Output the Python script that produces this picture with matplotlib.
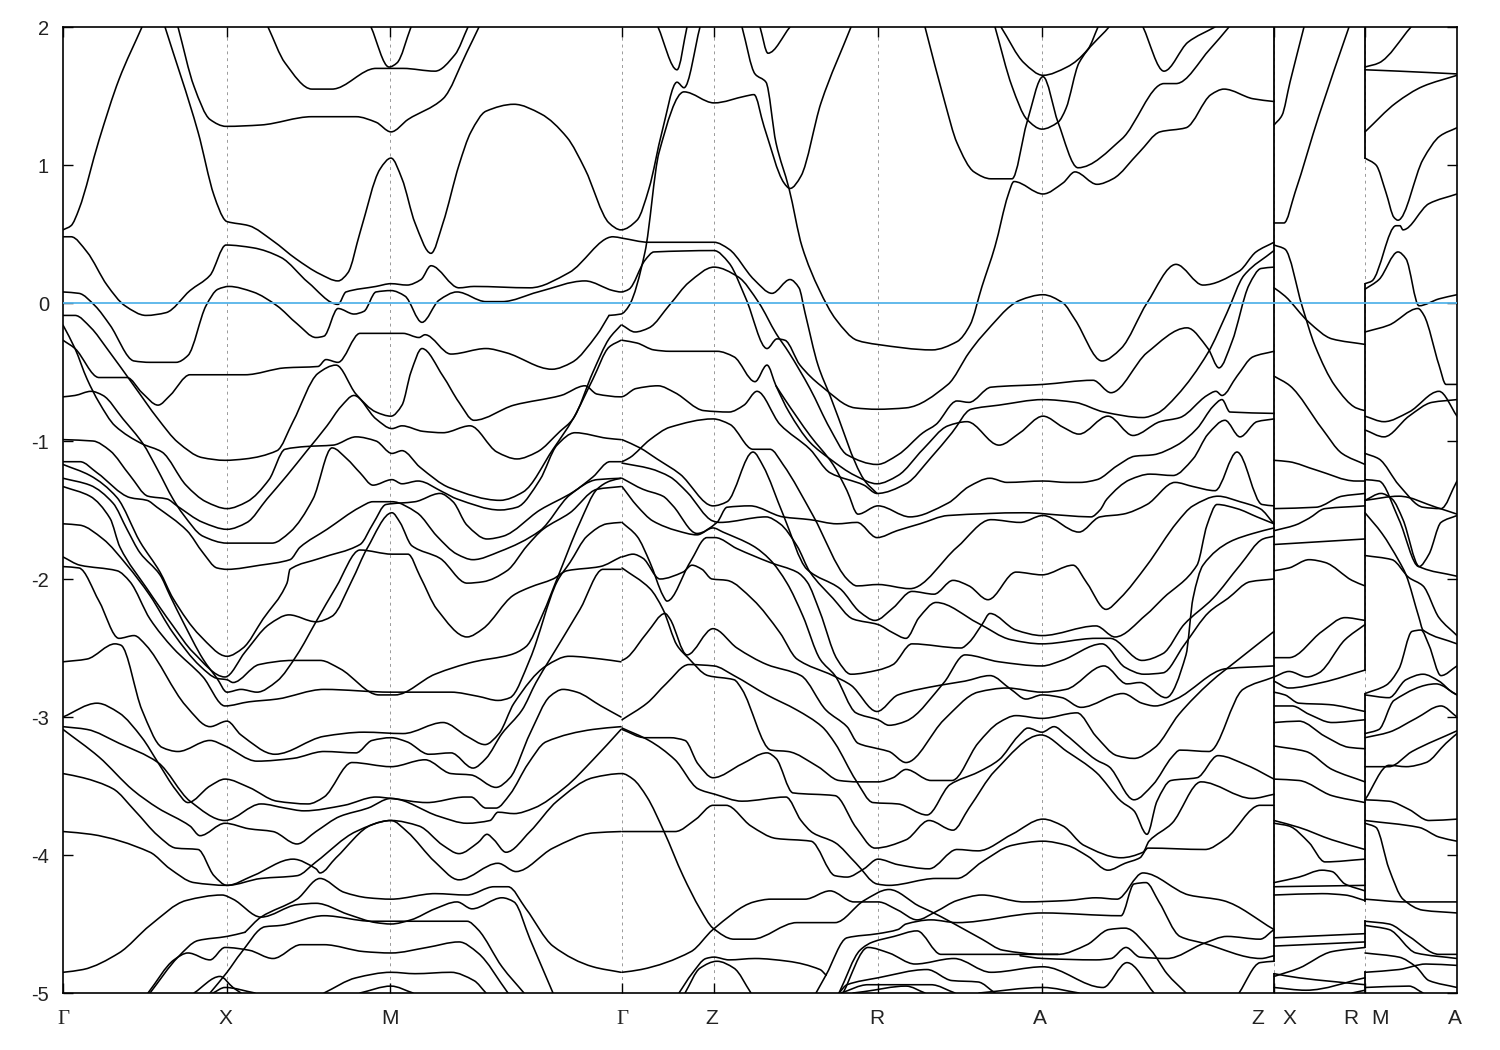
import matplotlib
matplotlib.use("Agg")
import matplotlib.pyplot as plt
from matplotlib.path import Path
from matplotlib.patches import PathPatch

# k-path position (arbitrary path units), energy (eV)
k_points = [0, 164, 327, 559, 651, 815, 979, 1211, 1302, 1394]
y_ticks = [2, 1, 0, -1, -2, -3, -4, -5]
label_names = ["Γ", "X", "M", "Γ", "Z", "R", "A", "Z", "X", "R", "M", "A"]
label_k = [0, 162, 327, 559, 649, 814, 977, 1195, 1226, 1288, 1317, 1392]
jumps_z = [(-4.77, 2), (-5, -4.86)]
jumps_r = [(1.05, 2), (-2.66, 0.14), (-4.33, -2.83), (-4.67, -4.48), (-5, -4.85)]

band_001 = [(0,.53),(8,.56),(16,.68),(36,1.18),(56,1.62),(79,2.0)]
band_002 = [(102,2.0),(135,1.24),(151,.78),(162,.6),(164,.59),(186,.56),(210,.45),(233,.32),(257,.21),(275,.16),(285,.22),(297,.51),(317,.97),(328,1.05),(339,.9),(352,.58),(368,.36),(380,.58),(396,1.0),(408,1.24),(423,1.39),(451,1.44),(478,1.37),(504,1.2),(522,.97),(546,.58),(558,.53),(574,.6),(586,.83),(599,1.24),(614,1.6),(621,1.56),(637,2.0)]
band_003 = [(595,2.0),(614,1.69),(624,2.0)]
band_004 = [(546,-.09),(558,-.08),(566,-.02),(582,.37),(596,1.09),(621,1.53),(651,1.45),(683,1.5),(691,1.51),(701,1.28),(721,.87),(727,.83),(738,.92),(758,1.45),(788,2.0)]
band_005 = [(679,2),(692,1.66),(703,1.6),(713,1.16),(726,.83),(739,.41),(756,.1),(773,-.12),(794,-.27),(814,-.3),(869,-.34),(894,-.28),(907,-.16),(919,.12),(932,.41),(945,.78),(951,.88),(980,.79),(1000,.87),(1012,.95),(1034,.86),(1050,.9),(1076,1.09),(1097,1.24),(1123,1.27),(1148,1.51),(1161,1.55),(1190,1.48),(1211,1.46)]
band_006 = [(697,2),(705,1.81),(727,2)]
band_007 = [(862,2),(882,1.45),(894,1.16),(911,.95),(928,.9),(949,.9),(964,1.31),(980,1.64),(995,1.31),(1015,.98),(1059,1.19),(1101,1.59),(1113,1.59),(1147,1.84),(1166,2.0)]
band_008 = [(932,2),(949,1.57),(964,1.33),(979,1.26),(995,1.31),(1003,1.41),(1016,1.74),(1046,2)]
band_009 = [(938,2),(961,1.74),(980,1.65),(1004,1.71),(1025,1.84),(1035,2)]
band_010 = [(1080,2),(1101,1.68),(1125,1.89),(1152,2.0)]
band_011 = [(115,2),(131,1.57),(147,1.33),(163,1.28),(198,1.29),(249,1.35),(293,1.35),(313,1.31),(328,1.24),(345,1.33),(380,1.48),(404,1.82),(416,2)]
band_012 = [(205,2),(222,1.74),(249,1.55),(269,1.55),(313,1.7),(340,1.7),(372,1.68),(392,1.8),(405,2)]
band_013 = [(308,2),(326,1.71),(334,1.74),(348,2)]
band_014 = [(0,.48),(8,.48),(24,.37),(44,.13),(62,-.02),(83,-.09),(103,-.07),(127,.09),(147,.2),(163,.42),(190,.4),(218,.33),(245,.15),(275,-.01),(283,.08),(313,.12),(328,.14),(344,.13),(358,.17),(368,.27),(396,.11),(411,.12),(467,.11),(506,.22),(550,.48),(559,.47),(586,.44),(651,.44),(666,.39),(691,.17),(709,.07),(727,.17),(736,.11),(742,-.07),(755,-.45),(767,-.67),(801,-1.28),(814,-1.38)]
band_015 = [(0,.08),(16,.07),(32,-.02),(47,-.16),(71,-.42),(87,-.43),(113,-.43),(125,-.38),(143,-.02),(155,.1),(166,.12),(190,.08),(214,-.02),(234,-.15),(253,-.25),(261,-.24),(275,-.04),(291,-.08),(301,-.06),(313,.08),(328,.09),(342,.05),(359,-.14),(376,.02),(394,.08),(423,.01),(439,.01),(475,.08),(522,.16),(550,.09),(558,.08),(566,.1),(582,.31),(591,.37),(651,.38),(666,.29),(683,.03),(704,-.33),(714,-.26),(722,-.27),(737,-.45),(758,-.6),(792,-.76),(814,-.77),(843,-.76),(885,-.59),(906,-.36),(919,-.24),(957,.02),(980,.06),(1000,0),(1012,-.12),(1039,-.42),(1058,-.33),(1084,0),(1113,.28),(1140,.13),(1176,.23),(1193,.37),(1211,.44)]
band_016 = [(559,-.16),(572,-.21),(586,-.18),(607,-.01),(626,.15),(651,.26),(675,.19),(696,0),(713,-.22),(726,-.36),(747,-.62),(767,-.91),(784,-1.1),(814,-1.17),(835,-1.1),(860,-.94),(873,-.88),(894,-.71),(906,-.72),(928,-.61),(980,-.59),(1030,-.56),(1048,-.65),(1084,-.36),(1124,-.18),(1145,-.33),(1156,-.47),(1169,-.28),(1186,.13),(1198,.25),(1211,.26)]
band_018 = [(559,-.27),(574,-.29),(591,-.34),(607,-.35),(654,-.35),(671,-.39),(692,-.57),(704,-.45),(713,-.6),(726,-.79),(747,-1.01),(767,-1.13),(792,-1.25),(814,-1.31),(835,-1.25),(860,-1.06),(885,-.89),(904,-.86),(936,-1.03),(957,-.94),(980,-.82),(1000,-.9),(1016,-.95),(1045,-.82),(1070,-.96),(1097,-.86),(1117,-.83),(1144,-.67),(1153,-.64),(1159,-.67),(1174,-.53),(1190,-.39),(1211,-.35)]
band_019 = [(0,-.09),(12,-.09),(28,-.18),(44,-.33),(71,-.6),(95,-.84),(115,-1.01),(139,-1.12),(162,-1.14),(182,-1.13),(214,-1.07),(230,-.86),(255,-.51),(273,-.45),(293,-.66),(313,-.79),(328,-.82),(339,-.74),(348,-.5),(359,-.33),(380,-.53),(396,-.72),(411,-.85),(451,-.74),(498,-.67),(522,-.6),(534,-.66),(558,-.68),(573,-.62),(595,-.6),(612,-.65),(641,-.78),(666,-.79),(681,-.74),(694,-.64),(717,-.88),(747,-1.06),(767,-1.23),(801,-1.32),(814,-1.38),(843,-1.31),(868,-1.12),(889,-.94),(908,-.77),(936,-.74),(980,-.7),(1012,-.72),(1041,-.79),(1080,-.83),(1094,-.8),(1114,-.67),(1145,-.36),(1164,-.07),(1181,.2),(1211,.38)]
band_020 = [(559,-.99),(577,-1.05),(594,-1.13),(617,-1.24),(650,-1.47),(664,-1.44),(690,-1.08),(700,-1.18),(720,-1.53),(744,-1.93),(777,-2.07),(797,-2.24),(812,-2.3),(830,-2.21),(849,-2.09),(871,-2.11),(890,-2.01),(906,-2.05),(925,-2.15),(953,-1.95),(979,-1.97),(1010,-1.9),(1024,-2.03),(1043,-2.22),(1057,-2.14),(1084,-1.9),(1114,-1.59),(1130,-1.47),(1155,-1.4),(1177,-1.44),(1197,-1.49),(1211,-1.6)]
band_021 = [(559,-1.15),(567,-1.12),(587,-.99),(607,-.9),(650,-.84),(667,-.88),(690,-1.06),(707,-1.06),(720,-1.17),(750,-1.54),(784,-2.0),(794,-2.05),(815,-2.04),(847,-2.07),(894,-1.77),(928,-1.57),(957,-1.59),(980,-1.54),(1016,-1.66),(1037,-1.55),(1060,-1.53),(1084,-1.46),(1112,-1.3),(1130,-1.33),(1152,-1.36),(1174,-1.08),(1199,-1.46),(1211,-1.47)]
band_023 = [(559,-1.16),(587,-1.2),(607,-1.26),(624,-1.37),(650,-1.58),(657,-1.59),(703,-1.55),(717,-1.6),(734,-1.76),(747,-1.95),(770,-2.14),(790,-2.29),(815,-2.33),(830,-2.39),(843,-2.43),(856,-2.28),(873,-2.17),(915,-2.32),(948,-2.44),(979,-2.47),(1033,-2.43),(1047,-2.43),(1079,-2.59),(1100,-2.54),(1121,-2.33),(1150,-2.14),(1177,-1.9),(1200,-1.71),(1211,-1.69)]
band_024 = [(559,-1.27),(580,-1.35),(600,-1.4),(610,-1.47),(634,-1.67),(654,-1.59),(664,-1.48),(687,-1.47),(720,-1.55),(747,-1.57),(774,-1.6),(794,-1.59),(814,-1.7),(834,-1.65),(857,-1.6),(885,-1.54),(961,-1.52),(1003,-1.54),(1028,-1.55),(1037,-1.5),(1044,-1.42),(1067,-1.28),(1087,-1.24),(1110,-1.25),(1130,-1.13),(1145,-.95),(1162,-.85),(1177,-.97),(1194,-.86),(1211,-.84)]
band_025 = [(559,-1.33),(574,-1.47),(590,-1.58),(614,-1.65),(634,-1.68),(650,-1.63),(660,-1.66),(690,-1.76),(707,-1.86),(724,-2.03),(740,-2.27),(757,-2.58),(772,-2.7),(793,-2.97),(815,-3.02),(826,-3.06),(843,-3.03),(881,-2.75),(902,-2.55),(936,-2.6),(979,-2.63),(999,-2.59),(1039,-2.47),(1062,-2.64),(1081,-2.69),(1100,-2.68),(1121,-2.48),(1146,-2.24),(1165,-2.14),(1187,-2.02),(1211,-2.0)]
band_026 = [(713,-.6),(722,-.7),(747,-.96),(770,-1.17),(784,-1.36),(795,-1.53),(815,-1.47),(847,-1.55),(885,-1.45),(906,-1.33),(927,-1.27),(944,-1.3),(980,-1.29),(1004,-1.3),(1017,-1.3),(1034,-1.28),(1054,-1.18),(1072,-1.11),(1090,-1.1),(1114,-1.03),(1134,-.91),(1150,-.75),(1159,-.7),(1167,-.79),(1211,-.8)]
band_032 = [(559,-1.59),(574,-1.69),(587,-1.88),(600,-2.12),(604,-2.16),(627,-1.88),(644,-1.7),(652,-1.7),(674,-1.78),(707,-1.88),(734,-1.95),(744,-2.02),(757,-2.24),(774,-2.58),(788,-2.69),(815,-2.66),(830,-2.62),(849,-2.47),(898,-2.5),(906,-2.46),(919,-2.33),(927,-2.25),(953,-2.37),(979,-2.41),(1033,-2.34),(1052,-2.42),(1083,-2.26),(1100,-2.14),(1134,-1.9),(1144,-1.61),(1154,-1.46),(1174,-1.49),(1194,-1.55),(1211,-1.6)]
band_033 = [(559,-1.84),(570,-1.82),(580,-1.85),(597,-2.0),(620,-1.95),(629,-1.9),(639,-1.93),(649,-2.0),(664,-2.01),(690,-2.15),(717,-2.39),(734,-2.58),(770,-2.7),(788,-2.77),(814,-2.96),(835,-2.84),(877,-2.77),(902,-2.74),(927,-2.7),(948,-2.8),(963,-2.87),(979,-2.84),(999,-2.86),(1018,-2.93),(1060,-2.83),(1079,-2.9),(1092,-2.92),(1113,-2.87),(1163,-2.65),(1211,-2.63)]
band_034 = [(559,-1.92),(587,-2.07),(600,-2.22),(614,-2.48),(625,-2.57),(645,-2.7),(671,-2.73),(679,-2.8),(708,-3.24),(725,-3.25),(755,-3.36),(776,-3.46),(795,-3.47),(815,-3.47),(830,-3.44),(843,-3.38),(868,-3.46),(889,-3.46),(915,-3.19),(936,-3.04),(953,-2.99),(979,-3.01),(1014,-2.97),(1033,-3.14),(1054,-3.28),(1071,-3.3),(1092,-3.22),(1116,-2.98),(1147,-2.75),(1176,-2.58),(1211,-2.38)]
band_035 = [(559,-2.59),(564,-2.57),(584,-2.39),(602,-2.25),(607,-2.29),(624,-2.55),(650,-2.36),(674,-2.5),(704,-2.62),(738,-2.7),(763,-2.95),(784,-3.07),(795,-3.19),(815,-3.23),(826,-3.25),(843,-3.33),(881,-3.02),(915,-2.82),(944,-2.79),(979,-2.82),(1003,-2.8),(1041,-2.63),(1064,-2.76),(1077,-2.75),(1103,-2.86),(1123,-2.55),(1130,-2.14),(1140,-1.9),(1167,-1.73),(1190,-1.67),(1211,-1.63)]
band_036 = [(559,-3.02),(584,-2.9),(603,-2.76),(626,-2.62),(651,-2.63),(671,-2.7),(704,-2.84),(734,-2.95),(759,-3.07),(772,-3.19),(793,-3.46),(810,-3.62),(835,-3.63),(864,-3.71),(887,-3.49),(915,-3.4),(936,-3.31),(955,-3.14),(965,-3.08),(979,-3.11),(991,-3.07),(1003,-3.13),(1033,-3.31),(1046,-3.36),(1071,-3.6),(1090,-3.49),(1109,-3.29),(1117,-3.24),(1146,-3.25),(1180,-2.8),(1211,-2.71)]
band_038 = [(559,-3.08),(586,-3.17),(612,-3.31),(635,-3.52),(652,-3.56),(679,-3.61),(723,-3.58),(738,-3.75),(750,-3.84),(772,-3.91),(793,-4.06),(814,-4.21),(826,-4.22),(873,-4.17),(894,-4.17),(919,-4.05),(949,-3.93),(980,-3.9),(1004,-3.93),(1025,-4.01),(1045,-4.11),(1062,-4.06),(1077,-4.02),(1085,-3.95),(1142,-3.96),(1163,-3.88),(1197,-3.64),(1211,-3.64)]
band_039 = [(559,-3.09),(582,-3.15),(607,-3.15),(622,-3.17),(635,-3.34),(650,-3.44),(679,-3.34),(704,-3.26),(713,-3.3),(730,-3.55),(772,-3.57),(793,-3.8),(812,-3.95),(843,-3.89),(866,-3.75),(890,-3.82),(906,-3.66),(932,-3.39),(978,-3.13),(1004,-3.25),(1033,-3.4),(1058,-3.61),(1071,-3.68),(1084,-3.85),(1094,-3.61),(1108,-3.46),(1134,-3.44),(1155,-3.28),(1184,-3.35),(1211,-3.45)]
band_040 = [(559,-3.83),(601,-3.83),(612,-3.83),(633,-3.74),(650,-3.64),(663,-3.64),(688,-3.79),(713,-3.88),(748,-3.9),(772,-4.15),(784,-4.16),(801,-4.1),(815,-4.03),(835,-4.07),(866,-4.1),(894,-3.96),(915,-3.97),(949,-3.85),(980,-3.74),(1000,-3.79),(1021,-3.93),(1058,-4.02),(1080,-3.98),(1086,-3.9),(1109,-3.77),(1138,-3.47),(1189,-3.59),(1211,-3.56)]
band_041 = [(0,-3.41),(20,-3.44),(50,-3.52),(72,-3.68),(95,-3.86),(113,-3.95),(135,-3.96),(151,-4.15),(164,-4.22),(190,-4.15),(230,-4.03),(253,-4.1),(257,-4.13),(273,-4.02),(309,-3.78),(328,-3.75),(356,-3.79),(380,-3.93),(396,-3.99),(415,-3.91),(424,-3.85),(431,-3.89),(443,-3.98),(467,-3.83),(494,-3.61),(530,-3.44),(559,-3.41),(570,-3.45),(584,-3.58),(601,-3.83),(620,-4.15),(637,-4.39),(650,-4.53),(671,-4.61),(689,-4.61),(734,-4.49),(772,-4.49),(801,-4.33),(826,-4.25),(856,-4.37),(868,-4.41),(889,-4.49),(919,-4.61),(940,-4.69),(980,-4.72),(995,-4.72),(1024,-4.65),(1046,-4.54),(1062,-4.53),(1088,-4.69),(1104,-4.86),(1123,-5)]
band_042 = [(0,-4.85),(20,-4.83),(56,-4.71),(87,-4.51),(123,-4.33),(159,-4.29),(170,-4.32),(198,-4.45),(234,-4.36),(253,-4.35),(285,-4.43),(313,-4.49),(328,-4.5),(348,-4.47),(372,-4.39),(394,-4.34),(409,-4.39),(439,-4.31),(451,-4.34),(467,-4.61),(490,-5)]
band_043 = [(559,-4.85),(578,-4.83),(628,-4.7),(650,-4.54),(691,-4.34),(708,-4.32),(742,-4.32),(767,-4.26),(791,-4.34),(815,-4.34),(835,-4.4),(854,-4.47),(873,-4.41),(894,-4.33),(919,-4.29),(961,-4.34),(1004,-4.33),(1033,-4.31),(1054,-4.32),(1080,-4.13),(1126,-4.29),(1160,-4.33),(1211,-4.54)]
band_044 = [(763,-4.87),(784,-4.6),(815,-4.57),(835,-4.54),(843,-4.5),(868,-4.47),(894,-4.49),(980,-4.42),(1058,-4.44),(1071,-4.21),(1083,-4.2),(1096,-4.34),(1117,-4.59),(1141,-4.64),(1198,-4.75),(1211,-4.73)]
band_045 = [(616,-5),(629,-4.86),(643,-4.75),(651,-4.74),(666,-4.76),(692,-4.75),(725,-4.77),(757,-4.83),(763,-4.87)]
band_046 = [(622,-5),(637,-4.82),(654,-4.77),(671,-4.82),(688,-5)]
band_047 = [(753,-5),(763,-4.87)]
band_048 = [(776,-5),(797,-4.69),(810,-4.63),(831,-4.59),(854,-4.55),(878,-4.72),(936,-4.72),(995,-4.72)]
band_049 = [(957,-4.73),(980,-4.75),(1033,-4.76),(1048,-4.75),(1063,-4.67),(1077,-4.74),(1104,-4.75),(1141,-4.64),(1164,-4.59),(1197,-4.61),(1211,-4.54)]
band_050 = [(780,-5),(805,-4.67),(826,-4.71),(852,-4.79),(891,-4.75),(928,-4.85),(980,-4.81),(1040,-4.96),(1064,-4.78),(1091,-5)]
band_051 = [(776,-5),(784,-4.94),(815,-4.89),(864,-4.83),(889,-4.91),(915,-4.92),(932,-5)]
band_052 = [(778,-5),(805,-4.94),(868,-4.94),(892,-5)]
band_053 = [(790,-5),(801,-4.99),(843,-4.95),(862,-5)]
band_054 = [(916,-5),(980,-4.96),(1016,-5)]
band_055 = [(1176,-5),(1197,-4.78),(1211,-4.77)]
band_056 = [(0,-.16),(12,-.33),(24,-.55),(36,-.72),(52,-.89),(79,-1.02),(99,-1.08),(123,-1.32),(143,-1.44),(164,-1.49),(184,-1.44),(206,-1.28),(222,-1.06),(243,-1.04),(270,-1.03),(293,-.97),(313,-1.0),(329,-1.09),(339,-1.07),(357,-1.19),(387,-1.34),(437,-1.43),(460,-1.37),(490,-1.06),(510,-.84),(530,-.55),(546,-.32),(558,-.27)]
band_057 = [(0,-.27),(12,-.33),(36,-.54),(64,-.54),(79,-.65),(95,-.74),(107,-.67),(127,-.52),(182,-.52),(222,-.47),(255,-.46),(263,-.41),(275,-.43),(297,-.22),(340,-.22),(356,-.25),(362,-.23),(388,-.37),(423,-.33),(443,-.36),(489,-.48),(509,-.43),(534,-.23),(546,-.09)]
band_064 = [(0,-.68),(12,-.67),(28,-.64),(40,-.67),(60,-.84),(80,-1.02),(94,-1.2),(110,-1.42),(120,-1.53),(140,-1.69),(164,-1.74),(209,-1.74),(227,-1.66),(250,-1.42),(269,-1.05),(284,-1.13),(297,-1.23),(310,-1.32),(329,-1.28),(339,-1.31),(355,-1.29),(380,-1.37),(394,-1.42),(437,-1.5),(454,-1.48),(477,-1.28),(494,-1.03),(512,-.94),(544,-.98),(558,-.99)]
band_065 = [(0,-.99),(30,-1.0),(47,-1.07),(67,-1.25),(85,-1.4),(104,-1.42),(114,-1.47),(140,-1.59),(164,-1.64),(184,-1.59),(204,-1.42),(224,-1.25),(244,-1.07),(264,-.89),(278,-.75),(291,-.67),(313,-.84),(329,-.91),(339,-.89),(360,-.93),(380,-.94),(407,-.89),(434,-1.08),(454,-1.13),(474,-1.08),(497,-.93),(510,-.84),(530,-.5),(546,-.26),(558,-.16)]
band_066 = [(0,-1.15),(17,-1.15),(34,-1.23),(67,-1.41),(84,-1.43),(94,-1.48),(124,-1.65),(140,-1.81),(154,-1.92),(164,-1.93),(197,-1.9),(227,-1.86),(237,-1.77),(264,-1.64),(297,-1.48),(310,-1.44),(329,-1.44),(354,-1.52),(374,-1.69),(394,-1.82),(410,-1.86),(437,-1.8),(477,-1.65),(507,-1.39),(534,-1.28),(558,-1.27)]
band_067 = [(0,-1.17),(27,-1.25),(54,-1.41),(77,-1.73),(97,-1.95),(110,-2.14),(137,-2.41),(164,-2.56),(180,-2.5),(200,-2.29),(224,-2.03),(227,-1.93),(257,-1.85),(297,-1.75),(310,-1.6),(323,-1.46),(352,-1.44),(377,-1.38),(390,-1.44),(404,-1.61),(424,-1.71),(440,-1.69),(477,-1.5),(510,-1.37),(530,-1.26),(547,-1.15),(558,-1.15)]
band_068 = [(0,-1.33),(27,-1.4),(47,-1.56),(57,-1.77),(84,-2.07),(110,-2.34),(130,-2.53),(162,-2.71),(182,-2.53),(206,-2.33),(226,-2.26),(253,-2.31),(269,-2.27),(289,-2.01),(304,-1.78),(329,-1.52),(337,-1.59),(349,-1.76),(377,-1.85),(404,-2.03),(420,-2.02),(444,-1.94),(464,-1.76),(480,-1.64),(507,-1.52),(534,-1.35),(558,-1.33)]
band_069 = [(0,-1.27),(27,-1.32),(50,-1.45),(64,-1.64),(77,-1.81),(97,-1.97),(107,-2.12),(120,-2.31),(140,-2.58),(154,-2.72),(164,-2.82),(178,-2.8),(194,-2.82),(214,-2.74),(234,-2.55),(253,-2.31),(273,-2.06),(297,-1.79),(329,-1.82),(345,-1.82),(357,-1.98),(374,-2.22),(404,-2.42),(420,-2.36),(450,-2.12),(467,-2.06),(490,-2.0),(504,-1.94),(537,-1.91),(558,-1.84)]
band_070 = [(0,-1.6),(17,-1.61),(40,-1.71),(64,-1.9),(87,-2.12),(110,-2.39),(137,-2.63),(154,-2.72),(164,-2.73),(170,-2.75),(196,-2.62),(230,-2.59),(257,-2.59),(277,-2.65),(316,-2.84),(332,-2.84),(372,-2.69),(411,-2.6),(447,-2.55),(463,-2.49),(480,-2.25),(494,-2.0),(517,-1.59),(534,-1.35),(547,-1.29),(558,-1.27)]
band_071 = [(0,-1.84),(17,-1.9),(54,-1.94),(67,-2.02),(87,-2.29),(110,-2.5),(140,-2.71),(162,-2.92),(186,-2.89),(214,-2.87),(261,-2.8),(328,-2.82),(388,-2.82),(415,-2.85),(435,-2.88),(447,-2.86),(467,-2.58),(494,-2.02),(507,-1.88),(524,-1.69),(544,-1.6),(558,-1.59)]
band_072 = [(0,-1.91),(16,-1.92),(36,-2.16),(56,-2.43),(71,-2.41),(83,-2.48),(123,-2.92),(147,-3.07),(164,-3.03),(178,-3.13),(212,-3.27),(261,-3.14),(301,-3.11),(340,-3.12),(380,-3.04),(404,-3.14),(422,-3.2),(436,-3.12),(451,-2.9),(483,-2.63),(506,-2.56),(538,-2.58),(558,-2.6)]
band_073 = [(0,-2.6),(24,-2.58),(52,-2.47),(58,-2.48),(79,-2.95),(99,-3.22),(115,-3.25),(147,-3.17),(162,-3.21),(194,-3.32),(230,-3.3),(261,-3.25),(293,-3.26),(309,-3.17),(328,-3.15),(344,-3.18),(366,-3.27),(388,-3.26),(410,-3.37),(423,-3.3),(439,-3.12),(459,-2.95),(473,-2.75),(487,-2.58),(517,-2.22),(540,-1.93),(558,-1.93)]
band_074 = [(0,-3),(34,-2.9),(56,-2.97),(79,-3.15),(95,-3.33),(113,-3.53),(125,-3.62),(147,-3.5),(162,-3.45),(186,-3.51),(214,-3.61),(245,-3.63),(261,-3.58),(289,-3.33),(328,-3.36),(362,-3.31),(388,-3.41),(408,-3.42),(433,-3.51),(447,-3.44),(467,-3.12),(487,-2.85),(500,-2.8),(514,-2.82),(538,-2.92),(558,-3.0)]
band_075 = [(0,-3.07),(24,-3.09),(56,-3.19),(95,-3.33),(127,-3.61),(162,-3.75),(198,-3.63),(222,-3.66),(241,-3.68),(281,-3.64),(313,-3.58),(328,-3.59),(364,-3.62),(402,-3.58),(408,-3.58),(423,-3.66),(433,-3.66),(447,-3.56),(465,-3.34),(483,-3.18),(530,-3.09),(558,-3.07)]
band_076 = [(0,-3.09),(36,-3.29),(70,-3.53),(95,-3.66),(127,-3.79),(137,-3.86),(162,-3.77),(186,-3.81),(210,-3.83),(234,-3.92),(253,-3.83),(277,-3.72),(305,-3.66),(328,-3.59),(376,-3.72),(404,-3.77),(427,-3.75),(435,-3.69),(451,-3.7),(471,-3.66),(502,-3.51),(530,-3.31),(558,-3.09)]
band_077 = [(0,-3.83),(28,-3.85),(87,-3.98),(107,-4.1),(131,-4.2),(164,-4.22),(198,-4.17),(234,-4.15),(253,-4.05),(293,-3.83),(328,-3.75),(344,-3.83),(372,-4.05),(396,-4.18),(435,-4.06),(453,-4.12),(490,-3.95),(530,-3.84),(558,-3.83)]
band_078 = [(182,-4.56),(198,-4.45),(234,-4.32),(257,-4.17),(281,-4.27),(305,-4.31),(328,-4.32),(372,-4.28),(404,-4.29),(431,-4.23),(445,-4.23),(463,-4.39),(490,-4.66),(530,-4.81),(558,-4.85)]
band_079 = [(147,-5),(164,-4.85),(178,-4.71),(202,-4.52),(218,-4.51),(261,-4.44),(309,-4.48),(404,-4.48),(415,-4.54),(439,-4.81),(461,-5)]
band_080 = [(87,-5),(115,-4.74),(135,-4.62),(164,-4.59),(182,-4.56)]
band_081 = [(85,-5),(111,-4.76),(125,-4.71),(147,-4.76),(162,-4.67),(186,-4.69),(210,-4.75),(238,-4.65),(261,-4.65),(301,-4.7),(328,-4.71),(364,-4.67),(396,-4.63),(415,-4.71),(445,-5)]
band_083 = [(131,-5),(157,-4.88),(170,-4.96),(178,-5)]
band_084 = [(150,-5),(162,-4.96),(192,-5)]
band_085 = [(261,-5),(293,-4.89),(328,-4.85),(352,-4.86),(388,-4.85),(411,-4.91),(423,-5)]
band_086 = [(297,-5),(328,-4.95),(350,-5)]

# X - R panel
band_101 = [(1211,1.29),(1219,1.36),(1227,1.6),(1241,2)]
band_102 = [(1211,.58),(1221,.58),(1232,.8),(1256,1.36),(1286,2)]
band_103 = [(1211,.42),(1222,.39),(1239,-.02),(1252,-.31),(1272,-.6),(1293,-.76),(1302,-.78)]
band_104 = [(1211,.11),(1222,.05),(1246,-.14),(1269,-.26),(1302,-.3)]
band_105 = [(1211,-.53),(1227,-.6),(1259,-.91),(1279,-1.09),(1302,-1.17)]
band_106 = [(1211,-1.14),(1226,-1.15),(1253,-1.21),(1293,-1.29),(1302,-1.29)]
band_107 = [(1211,-1.49),(1253,-1.48),(1279,-1.4),(1302,-1.38)]
band_108 = [(1211,-1.65),(1232,-1.61),(1246,-1.56),(1262,-1.49),(1302,-1.47)]
band_109 = [(1211,-1.75),(1302,-1.71)]
band_110 = [(1211,-1.94),(1226,-1.92),(1246,-1.86),(1262,-1.88),(1289,-2.01),(1302,-2.05)]
band_111 = [(1211,-2.57),(1226,-2.57),(1259,-2.38),(1282,-2.28),(1302,-2.3)]
band_112 = [(1211,-2.71),(1226,-2.67),(1244,-2.71),(1256,-2.68),(1282,-2.44),(1302,-2.33)]
band_113 = [(1211,-2.74),(1226,-2.79),(1259,-2.75),(1302,-2.66)]
band_114 = [(1211,-2.82),(1222,-2.84),(1236,-2.9),(1266,-2.91),(1302,-2.96)]
band_115 = [(1211,-2.92),(1229,-2.92),(1246,-2.98),(1269,-3.04),(1302,-3.02)]
band_116 = [(1211,-3.04),(1236,-3.03),(1262,-3.14),(1286,-3.22),(1302,-3.23)]
band_117 = [(1211,-3.21),(1243,-3.25),(1269,-3.38),(1302,-3.47)]
band_118 = [(1211,-3.45),(1236,-3.46),(1269,-3.57),(1302,-3.62)]
band_119 = [(1211,-3.75),(1236,-3.8),(1269,-3.89),(1302,-3.96)]
band_120 = [(1211,-3.77),(1226,-3.79),(1246,-3.91),(1262,-4.05),(1302,-4.03)]
band_121 = [(1211,-4.2),(1236,-4.16),(1259,-4.11),(1269,-4.12),(1282,-4.21),(1302,-4.26)]
band_122 = [(1211,-4.23),(1302,-4.22)]
band_123 = [(1211,-4.29),(1259,-4.28),(1282,-4.29),(1302,-4.33)]
band_124 = [(1211,-4.6),(1302,-4.57)]
band_125 = [(1211,-4.66),(1302,-4.63)]
band_126 = [(1211,-4.88),(1236,-4.82),(1269,-4.7),(1302,-4.67)]
band_127 = [(1211,-4.86),(1236,-4.89),(1302,-4.94)]
band_128 = [(1211,-4.96),(1243,-4.98),(1302,-4.89)]
band_129 = [(1289,-5),(1302,-4.98)]

# M - A panel
band_201 = [(1302,1.71),(1316,1.74),(1348,2)]
band_202 = [(1302,1.69),(1336,1.68),(1394,1.66)]
band_203 = [(1302,1.24),(1333,1.45),(1360,1.57),(1394,1.65)]
band_204 = [(1302,1.05),(1313,1.0),(1323,.8),(1331,.62),(1335,.6),(1360,1.04),(1377,1.21),(1394,1.27)]
band_205 = [(1302,.14),(1309,.16),(1333,.56),(1337,.56),(1340,.53),(1366,.72),(1394,.79)]
band_206 = [(1302,.1),(1316,.17),(1335,.37),(1343,.32),(1356,-.02),(1376,.03),(1394,.06)]
band_207 = [(1302,-.21),(1326,-.16),(1355,-.04),(1361,-.09),(1376,-.45),(1383,-.59),(1394,-.59)]
band_208 = [(1302,-.82),(1321,-.86),(1346,-.79),(1376,-.64),(1394,-.82)]
band_209 = [(1302,-.92),(1321,-.97),(1346,-.82),(1369,-.72),(1394,-.7)]
band_210 = [(1302,-1.09),(1316,-1.13),(1336,-1.32),(1360,-1.48),(1378,-1.49),(1394,-1.29)]
band_211 = [(1302,-1.28),(1316,-1.29),(1336,-1.57),(1356,-1.91),(1366,-1.82),(1378,-1.59),(1394,-1.54)]
band_212 = [(1302,-1.43),(1318,-1.38),(1329,-1.42),(1340,-1.57),(1356,-1.91),(1394,-1.98)]
band_213 = [(1302,-1.43),(1336,-1.4),(1373,-1.48),(1394,-1.53)]
band_214 = [(1302,-1.52),(1319,-1.67),(1336,-1.87),(1343,-1.97),(1356,-2.28),(1360,-2.37),(1394,-2.47)]
band_215 = [(1302,-1.83),(1329,-1.86),(1346,-1.99),(1360,-2.05),(1376,-2.28),(1394,-2.41)]
band_216 = [(1302,-2.83),(1323,-2.77),(1336,-2.65),(1349,-2.38),(1358,-2.37),(1366,-2.48),(1378,-2.7),(1394,-2.63)]
band_217 = [(1302,-2.84),(1326,-2.86),(1343,-2.73),(1360,-2.69),(1376,-2.74),(1389,-2.82),(1394,-2.84)]
band_218 = [(1302,-3.12),(1316,-3.09),(1331,-2.88),(1373,-2.76),(1394,-2.84)]
band_219 = [(1302,-3.15),(1326,-3.11),(1353,-3.01),(1378,-2.92),(1394,-3.0)]
band_220 = [(1302,-3.36),(1326,-3.36),(1349,-3.25),(1394,-3.1)]
band_221 = [(1302,-3.6),(1326,-3.35),(1343,-3.36),(1363,-3.33),(1383,-3.19),(1394,-3.12)]
band_222 = [(1302,-3.6),(1326,-3.61),(1346,-3.67),(1366,-3.75),(1394,-3.74)]
band_223 = [(1302,-3.75),(1356,-3.8),(1376,-3.87),(1394,-3.9)]
band_224 = [(1302,-3.77),(1313,-3.8),(1326,-4.1),(1340,-4.32),(1360,-4.4),(1394,-4.42)]
band_225 = [(1302,-4.32),(1343,-4.34),(1394,-4.34)]
band_226 = [(1302,-4.48),(1326,-4.5),(1346,-4.59),(1376,-4.72),(1394,-4.72)]
band_227 = [(1302,-4.51),(1326,-4.54),(1353,-4.71),(1394,-4.75)]
band_228 = [(1302,-4.71),(1336,-4.74),(1353,-4.81),(1366,-4.91),(1394,-4.96)]
band_229 = [(1302,-4.85),(1336,-4.83),(1363,-4.79),(1394,-4.8)]
band_230 = [(1302,-4.96),(1346,-4.95),(1360,-5)]


def band_path(pts):
    """Smooth drawing path through the read points (no overshoot)."""
    xs = [p[0] for p in pts]
    ys = [p[1] for p in pts]
    n = len(xs)
    sec = [(ys[i + 1] - ys[i]) / (xs[i + 1] - xs[i]) for i in range(n - 1)]
    m = [sec[0]] * n
    m[-1] = sec[-1]
    for i in range(1, n - 1):
        a, b = sec[i - 1], sec[i]
        m[i] = 0.0 if a * b <= 0 else 2 * a * b / (a + b)
    verts = [(xs[0], ys[0])]
    codes = [Path.MOVETO]
    for i in range(n - 1):
        h = xs[i + 1] - xs[i]
        verts += [(xs[i] + h / 3, ys[i] + m[i] * h / 3),
                  (xs[i + 1] - h / 3, ys[i + 1] - m[i + 1] * h / 3),
                  (xs[i + 1], ys[i + 1])]
        codes += [Path.CURVE4] * 3
    return Path(verts, codes)


fig = plt.figure(figsize=(15, 10.5), dpi=100)
ax = fig.add_axes([63/1500, 1-993/1050, (1457-63)/1500, (993-27)/1050])
ax.set_xlim(0, 1394)
ax.set_ylim(-5, 2)

for k in k_points[1:-1]:
    ax.axvline(k, color="#999999", lw=0.7, ls=(0, (3, 4)), zorder=1)

for name in sorted(n for n in list(globals()) if n.startswith("band_") and n != "band_path"):
    ax.add_patch(PathPatch(band_path(globals()[name]), fill=False, edgecolor="black",
                           lw=1.15, zorder=2, capstyle="round", joinstyle="round"))

for lo, hi in jumps_z:
    ax.plot([k_points[7], k_points[7]], [lo, hi], color="black", lw=1.3, zorder=2)
for lo, hi in jumps_r:
    ax.plot([k_points[8], k_points[8]], [lo, hi], color="black", lw=1.3, zorder=2)

ax.axhline(0, color="#56B4E9", lw=1.3, zorder=3)

ax.set_xticks(k_points[:-1])
ax.set_xticklabels([])
ax.set_yticks(y_ticks)
ax.set_yticklabels([str(v) for v in y_ticks], fontsize=14.5, family="Liberation Sans", color="#222222")
ax.tick_params(axis="both", direction="in", length=7, width=1.0, top=True, right=True, pad=10)
for s in ax.spines.values():
    s.set_linewidth(1.2)

for name, k in zip(label_names, label_k):
    fam = "Liberation Serif" if name == "Γ" else "Liberation Sans"
    ax.annotate(name, (k, 0), xycoords=("data", "axes fraction"), xytext=(0, -26),
                textcoords="offset pixels", ha="center", va="center",
                fontsize=15, family=fam, color="#222222")

fig.savefig("out.png", dpi=100)
